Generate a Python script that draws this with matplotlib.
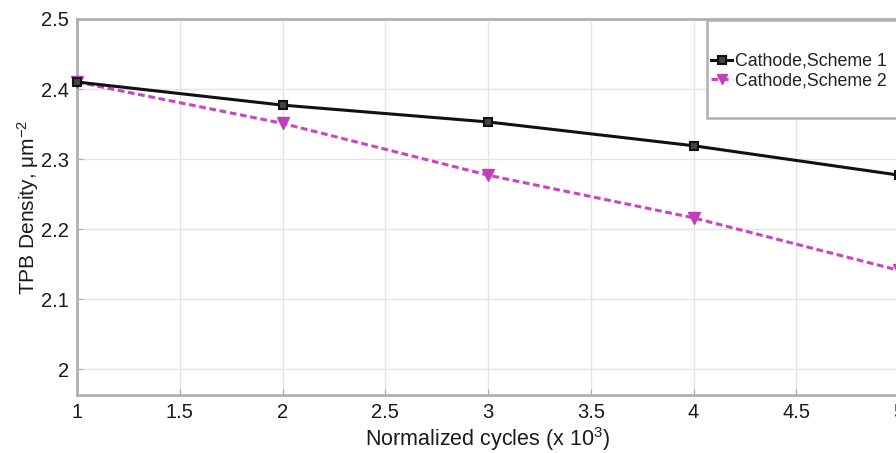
import matplotlib
matplotlib.use('Agg')
import matplotlib.pyplot as plt
from matplotlib.patches import Rectangle
from matplotlib import rcParams

rcParams['font.family'] = ['Liberation Sans', 'DejaVu Sans']
rcParams['mathtext.fontset'] = 'custom'
rcParams['mathtext.rm'] = 'Liberation Sans'
rcParams['mathtext.it'] = 'Liberation Sans'

# data
cycles = [1, 2, 3, 4, 5]
scheme1 = [2.410, 2.377, 2.353, 2.319, 2.277]
scheme2 = [2.410, 2.351, 2.277, 2.216, 2.141]
labels = ['Cathode,Scheme 1', 'Cathode,Scheme 2']
xticks = [1, 1.5, 2, 2.5, 3, 3.5, 4, 4.5, 5]
yticks = [2.0, 2.1, 2.2, 2.3, 2.4, 2.5]

fig = plt.figure(figsize=(8.96, 4.53), dpi=100, facecolor='white')
W, H = 896, 453
# axes box in pixels: left 77, right 899 (runs past the edge), top 19, bottom 395
ax = fig.add_axes([77 / W, 1 - 395 / H, (899 - 77) / W, (395 - 19) / H])

l1, = ax.plot(cycles, scheme1, color='#111111', lw=2.2, marker='s', ms=6,
              mfc='#444444', mec='#111111', mew=1.5, clip_on=False, zorder=4)
l2, = ax.plot(cycles, scheme2, color='#cc44c4', lw=2.2, ls=(0, (2.2, 1.2)),
              marker='v', ms=8, mfc='#c040bc', mec='#c040bc', clip_on=False, zorder=3)

ax.set_xlim(1, 5)
ax.set_ylim(1.963, 2.5)
ax.set_xticks(xticks)
ax.set_xticklabels(['1', '1.5', '2', '2.5', '3', '3.5', '4', '4.5', '5'])
ax.set_yticks(yticks)
ax.set_yticklabels(['2', '2.1', '2.2', '2.3', '2.4', '2.5'])
ax.tick_params(direction='in', length=4, color='#aaaaaa', labelsize=14.5,
               labelcolor='#1a1a1a', pad=6)
ax.grid(True, color='#e4e4e4', lw=1.0)
ax.set_axisbelow(True)
for s in ax.spines.values():
    s.set_color('#b0b0b0')
    s.set_linewidth(2)

ax.set_xlabel('Normalized cycles (x 10$^3$)', fontsize=15.5, color='#1a1a1a', labelpad=2)
ax.set_ylabel('TPB Density, μm$^{-2}$', fontsize=15, color='#1a1a1a', labelpad=0)

# legend box, running past the right edge like the source
box = Rectangle((707 / W, 1 - 118 / H), 200 / W, 98 / H, transform=fig.transFigure,
                facecolor='white', edgecolor='#b0b0b0', lw=1.8, zorder=5)
fig.patches.append(box)
leg = fig.legend([l1, l2], labels, loc='upper left',
                 bbox_to_anchor=(711 / W, 1 - 53 / H), frameon=False,
                 fontsize=12.8, handlelength=1.2, handletextpad=0.15,
                 labelspacing=0.15, borderpad=0, borderaxespad=0, markerscale=0.9)
leg.set_zorder(6)
for t in leg.get_texts():
    t.set_color('#222222')

fig.savefig('out.png', dpi=100)
